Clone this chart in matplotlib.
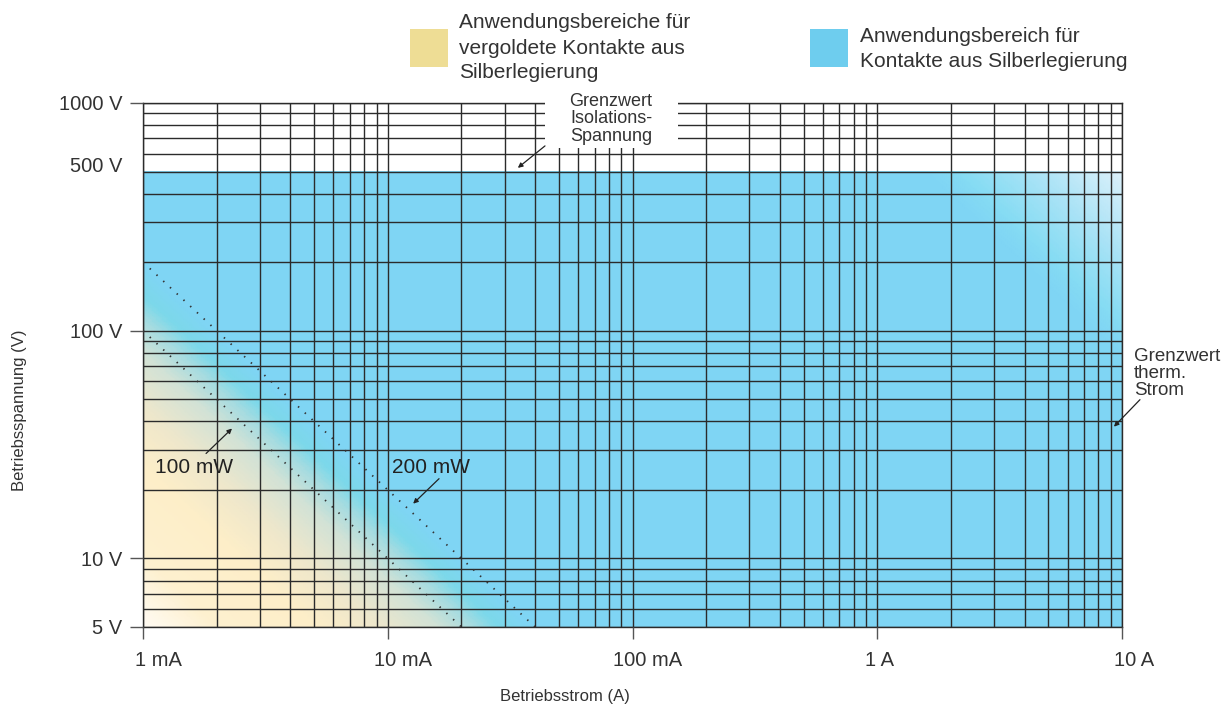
import numpy as np
import matplotlib.pyplot as plt
from matplotlib.colors import LinearSegmentedColormap, Normalize
from matplotlib.patches import Rectangle
from matplotlib.ticker import FixedLocator, FixedFormatter, NullFormatter
from matplotlib.transforms import ScaledTranslation

plt.rcParams['font.family'] = ['Liberation Sans', 'DejaVu Sans']

# axes: Betriebsstrom (A) / Betriebsspannung (V)
x_major = [1e-3, 1e-2, 1e-1, 1, 10]
x_labels = ['1 mA', '10 mA', '100 mA', '1 A', '10 A']
y_major = [5, 10, 100, 500, 1000]
y_labels = ['5 V', '10 V', '100 V', '500 V', '1000 V']
mult = [2, 3, 4, 5, 6, 7, 8, 9]
decades = [1e-3, 1e-2, 1e-1, 1]
x_grid = [m * d for d in decades for m in mult]
y_grid = [6, 7, 8, 9, 20, 30, 40, 50, 60, 70, 80, 90, 200, 300, 400, 600, 700, 800, 900]

power_mw = [100, 200]
power_labels = ['100 mW', '200 mW']
v_insulation = 500   # Grenzwert Isolations-Spannung
i_thermal = 10       # Grenzwert therm. Strom
v_min = 5

txt = '#333333'
gridc = '#2b2b2b'

fig = plt.figure(figsize=(12.21, 7.06), dpi=100)
ax = fig.add_axes([143/1221, 79/706, 979/1221, 524/706])
ax.set_xscale('log')
ax.set_yscale('log')
ax.set_xlim(x_major[0], i_thermal)
ax.set_ylim(v_min, y_major[-1])

# colour field: gold -> silver region along the power hyperbolas
stops = [(-2.30, '#fffbf3'), (-2.0, '#fdf0cf'), (-1.6, '#fdeec8'), (-1.35, '#efe7cb'),
         (-1.1, '#d2e2d6'), (-0.95, '#a6dce1'), (-0.85, '#7cd8ea'), (-0.72, '#7fd5f4'),
         (2.9, '#7fd5f4'), (3.05, '#86dcf3'), (3.35, '#abe3f6'), (3.70, '#dbf0fa')]
lo, hi = stops[0][0], stops[-1][0]
cmap = LinearSegmentedColormap.from_list('kontakt', [((v - lo) / (hi - lo), c) for v, c in stops])
I = np.logspace(np.log10(x_major[0]), np.log10(i_thermal), 500)
V = np.logspace(np.log10(v_min), np.log10(v_insulation), 300)
II, VV = np.meshgrid(I, V)
ax.pcolormesh(I, V, np.log10(II * VV), cmap=cmap, norm=Normalize(lo, hi),
              shading='gouraud', zorder=0, rasterized=True)

# grid
ax.xaxis.set_major_locator(FixedLocator(x_major))
ax.xaxis.set_major_formatter(FixedFormatter(x_labels))
ax.yaxis.set_major_locator(FixedLocator(y_major))
ax.yaxis.set_major_formatter(FixedFormatter(y_labels))
ax.xaxis.set_minor_locator(FixedLocator(x_grid))
ax.yaxis.set_minor_locator(FixedLocator(y_grid))
ax.xaxis.set_minor_formatter(NullFormatter())
ax.yaxis.set_minor_formatter(NullFormatter())
ax.grid(which='both', color=gridc, lw=1.0)
ax.set_axisbelow(False)
ax.tick_params(which='major', length=9.3, width=1.0, color='#555555', labelsize=14.5, labelcolor=txt)
ax.tick_params(axis='x', which='major', length=8.6, pad=9)
ax.tick_params(axis='y', which='major', pad=5.5)
ax.tick_params(which='minor', length=0)
for s in ax.spines.values():
    s.set_color(gridc)
    s.set_linewidth(1.0)

# label nudges as in the original print
x_shift = [15, 15, 15, 2, 12]
for lab, dx in zip(ax.get_xticklabels(), x_shift):
    lab.set_transform(lab.get_transform() + ScaledTranslation(dx / 100, 0, fig.dpi_scale_trans))
for tick, lab in zip(ax.yaxis.get_major_ticks(), y_labels):
    if lab == '500 V':
        tick.tick1line.set_visible(False)
        tick.label1.set_transform(tick.label1.get_transform()
                                  + ScaledTranslation(0, 7 / 100, fig.dpi_scale_trans))

# power hyperbolas
for p in power_mw:
    pw = p / 1000
    ii = np.logspace(np.log10(x_major[0]), np.log10(pw / v_min), 60)
    ax.plot(ii, pw / ii, color='#333333', lw=1.3, ls=(0, (0.8, 4.3)), zorder=3)

arr = dict(arrowstyle='-|>', color='#222222', lw=0.9, mutation_scale=7, shrinkA=0, shrinkB=0)
ax.text(1.12e-3, 25.1, power_labels[0], fontsize=15, color='#222222', ha='left', va='center', zorder=5)
ax.annotate('', xy=(2.31e-3, 37.2), xytext=(1.81e-3, 28.9), arrowprops=arr, zorder=5)
ax.text(1.27e-2 * 0.82, 25.1, power_labels[1], fontsize=15, color='#222222', ha='left', va='center', zorder=5)
ax.annotate('', xy=(1.27e-2, 17.4), xytext=(1.62e-2, 22.4), arrowprops=arr, zorder=5)

# limits
ax.add_patch(Rectangle((0.0439, 636), 0.1535 - 0.0439, 1200 - 636, fc='white', ec='none',
                       zorder=4, clip_on=False))
ax.text(8.17e-2, 851, 'Grenzwert\nIsolations-\nSpannung', fontsize=13, color=txt, ha='center', va='center',
        linespacing=1.05, zorder=6, clip_on=False)
ax.annotate('', xy=(0.0340, 519), xytext=(0.0439, 648), arrowprops=arr, zorder=6)
ax.text(11.2, 64.8, 'Grenzwert\ntherm.\nStrom', fontsize=13.5, color=txt, ha='left', va='center',
        linespacing=0.98, zorder=6, clip_on=False)
ax.annotate('', xy=(9.27, 37.9), xytext=(11.84, 49.8), arrowprops=arr, zorder=6, annotation_clip=False)

# axis titles
fig.text(565/1221, 1 - 697/706, 'Betriebsstrom (A)', fontsize=12, color=txt, ha='center', va='center')
fig.text(20/1221, 1 - 410/706, 'Betriebsspannung (V)', fontsize=12, color=txt, ha='center', va='center',
         rotation=90)

# legend
W, H = 1221, 706
fig.add_artist(Rectangle((410/W, 1 - 67/H), 38/W, 38/H, transform=fig.transFigure, fc='#eedd95', ec='none'))
fig.text(459/W, 1 - 48/H, 'Anwendungsbereiche für\nvergoldete Kontakte aus\nSilberlegierung',
         fontsize=15, color=txt, ha='left', va='center', linespacing=1.4)
fig.add_artist(Rectangle((810/W, 1 - 67/H), 38/W, 38/H, transform=fig.transFigure, fc='#6ecdee', ec='none'))
fig.text(860/W, 1 - 49/H, 'Anwendungsbereich für\nKontakte aus Silberlegierung',
         fontsize=15, color=txt, ha='left', va='center', linespacing=1.4)

fig.savefig('out.png', dpi=100)
